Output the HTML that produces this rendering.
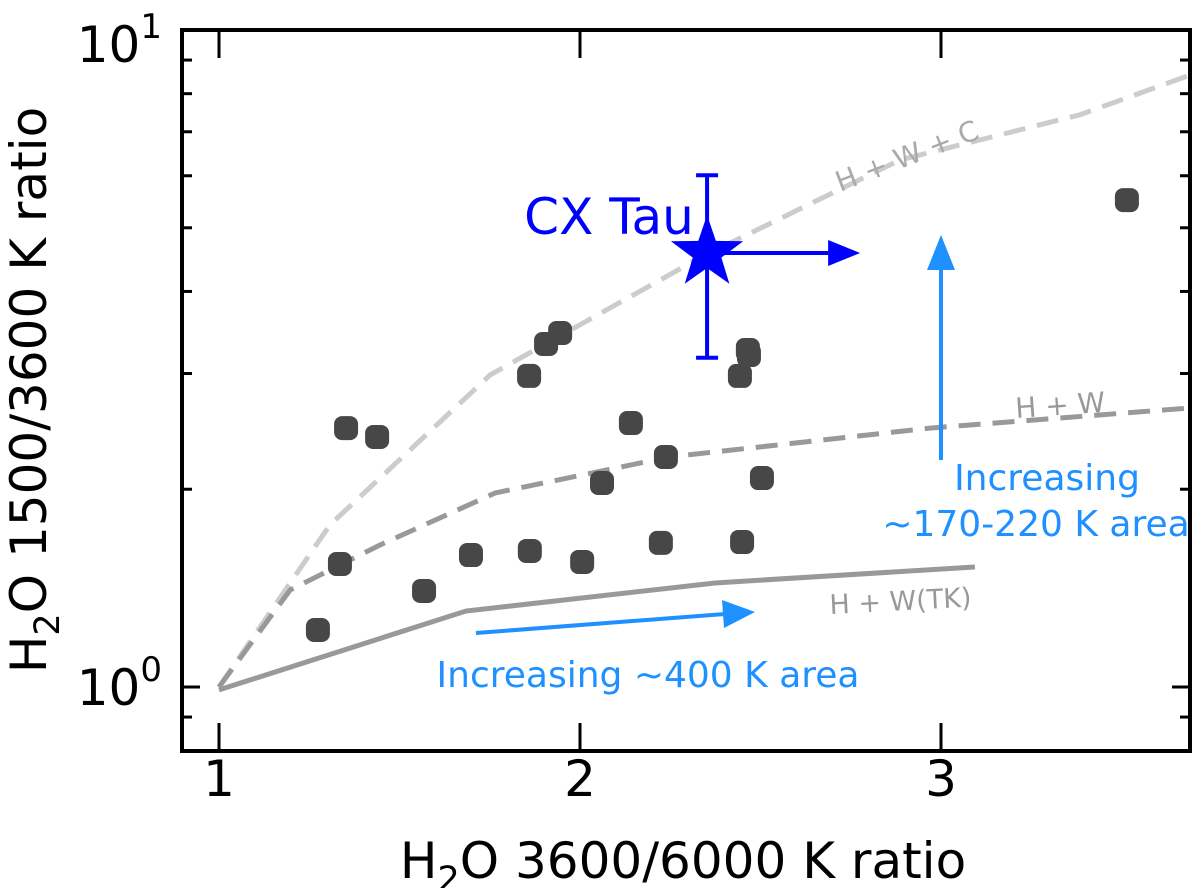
<!DOCTYPE html>
<html><head><meta charset="utf-8"><style>
html,body{margin:0;padding:0;background:#fff;}
svg text{font-family:"DejaVu Sans","Liberation Sans",sans-serif;}
</style></head><body>
<svg id="chart" width="1200" height="888" xmlns="http://www.w3.org/2000/svg">
<g id="plot"></g>
</svg>
<script>
const obsX=[1.274,1.335,1.352,1.438,1.568,1.698,1.861,1.859,1.906,1.945,2.006,2.061,2.141,2.224,2.238,2.443,2.449,2.465,2.468,2.504,3.515];
const obsY=[1.221,1.539,2.478,2.402,1.400,1.588,1.611,2.975,3.327,3.458,1.550,2.044,2.522,1.657,2.239,2.975,1.662,3.258,3.201,2.080,5.51];
const hwcX=[1.0,1.307,1.751,2.332,2.886,3.385,3.690];
const hwcY=[1.0,1.764,2.985,4.50,6.34,7.43,8.54];
const hwX=[1.0,1.197,1.446,1.765,2.249,2.970,3.690];
const hwY=[1.0,1.405,1.645,1.974,2.240,2.478,2.659];
const tkX=[1.0,1.684,2.374,3.094];
const tkY=[0.99,1.305,1.440,1.523];
const cxX=2.352, cxY=4.577, cxYlo=3.17, cxYhi=6.01, cxXlim=2.776;
const xTicks=[1,2,3];
const xTickLabels=["1","2","3"];

const NS="http://www.w3.org/2000/svg";
const L=182,R=1190,T=30,B=751;
const X=v=>219+(v-1)*361;
const Y=v=>687-657*Math.log10(v);
const g=document.getElementById('plot');
function mk(tag,a,parent){const e=document.createElementNS(NS,tag);for(const k in a)e.setAttribute(k,a[k]);(parent||g).appendChild(e);return e;}
function pts(xs,ys){return xs.map((x,i)=>X(x)+','+Y(ys[i])).join(' ');}

let l;
l=mk('polyline',{points:pts(hwcX,hwcY),fill:'none',stroke:'#cccccc','stroke-width':5,'stroke-dasharray':'22,12'});


l=mk('polyline',{points:pts(hwX,hwY),fill:'none',stroke:'#999999','stroke-width':5,'stroke-dasharray':'22,12'});


l=mk('polyline',{points:pts(tkX,tkY),fill:'none',stroke:'#999999','stroke-width':5});



obsX.forEach((x,i)=>{
  const r=mk('rect',{x:X(x)-12,y:Y(obsY[i])-12,width:24,height:24,rx:8,fill:'#474747'});
  
  
});

function txt(s,x,y,a){const t=mk('text',Object.assign({x:x,y:y},a));t.textContent=s;return t;}
let t;
t=txt('H + W + C',0,0,{'font-size':28,fill:'#aaaaaa',transform:'translate(840,192) rotate(-21)'});

t=txt('H + W',0,0,{'font-size':28,fill:'#999999',transform:'translate(1016,418) rotate(-4)'});

t=txt('H + W(TK)',0,0,{'font-size':27,fill:'#999999',transform:'translate(830,614) rotate(-3)'});


const blue='#1e90ff';
l=mk('line',{x1:476,y1:633,x2:725,y2:614,stroke:blue,'stroke-width':4});

l=mk('polygon',{points:'755,612 722,600 724,628',fill:blue});

l=mk('line',{x1:941,y1:460,x2:941,y2:265,stroke:blue,'stroke-width':4});

l=mk('polygon',{points:'941,235 927,270 955,270',fill:blue});

t=txt('Increasing ~400 K area',648,687,{'font-size':36,fill:blue,'text-anchor':'middle'});

t=txt('Increasing',1047,490,{'font-size':36,fill:blue,'text-anchor':'middle'});

t=txt('~170-220 K area',1036,536,{'font-size':36,fill:blue,'text-anchor':'middle'});


const cx=X(cxX),cy=Y(cxY);
l=mk('line',{x1:cx,y1:Y(cxYlo),x2:cx,y2:Y(cxYhi),stroke:'#0000ff','stroke-width':4});

l=mk('line',{x1:cx-11,y1:Y(cxYlo),x2:cx+11,y2:Y(cxYlo),stroke:'#0000ff','stroke-width':4});

l=mk('line',{x1:cx-11,y1:Y(cxYhi),x2:cx+11,y2:Y(cxYhi),stroke:'#0000ff','stroke-width':4});

l=mk('line',{x1:cx,y1:cy,x2:X(cxXlim)-30,y2:cy,stroke:'#0000ff','stroke-width':4});

l=mk('polygon',{points:`${X(cxXlim)},${cy} ${X(cxXlim)-32},${cy-13} ${X(cxXlim)-32},${cy+13}`,fill:'#0000ff'});

let sp=[];for(let i=0;i<10;i++){const r=i%2?15:38;const a=-Math.PI/2+i*Math.PI/5;sp.push((cx+r*Math.cos(a))+','+(cy+r*Math.sin(a)));}
l=mk('polygon',{points:sp.join(' '),fill:'#0000ff'});

t=txt('CX Tau',609,234,{'font-size':50,fill:'#0000ff','text-anchor':'middle'});


l=mk('rect',{x:L,y:T,width:R-L,height:B-T,fill:'none',stroke:'#000','stroke-width':4});

xTicks.forEach((v,i)=>{
  mk('line',{x1:X(v),y1:B,x2:X(v),y2:B-28,stroke:'#000','stroke-width':3});
  mk('line',{x1:X(v),y1:T,x2:X(v),y2:T+28,stroke:'#000','stroke-width':3});
  const tl=txt(xTickLabels[i],X(v),796,{'font-size':50,'text-anchor':'middle',fill:'#000'});
  
});
[1,10].forEach(v=>{
  mk('line',{x1:L,y1:Y(v),x2:L+18,y2:Y(v),stroke:'#000','stroke-width':3});
  mk('line',{x1:R,y1:Y(v),x2:R-18,y2:Y(v),stroke:'#000','stroke-width':3});
});
[0.9,2,3,4,5,6,7,8,9].forEach(v=>{
  mk('line',{x1:L,y1:Y(v),x2:L+10,y2:Y(v),stroke:'#000','stroke-width':3});
  mk('line',{x1:R,y1:Y(v),x2:R-10,y2:Y(v),stroke:'#000','stroke-width':3});
});
t=mk('text',{x:162,y:Y(1)+18,'font-size':50,'text-anchor':'end',fill:'#000'});
t.innerHTML='10<tspan dy="-24" font-size="34">0</tspan>';

t=mk('text',{x:162,y:62,'font-size':50,'text-anchor':'end',fill:'#000'});
t.innerHTML='10<tspan dy="-24" font-size="34">1</tspan>';


t=mk('text',{x:683,y:878,'font-size':50,'text-anchor':'middle',fill:'#000'});
t.innerHTML='H<tspan dy="13" font-size="35">2</tspan><tspan dy="-13">O 3600/6000 K ratio</tspan>';

t=mk('text',{x:0,y:0,'font-size':50,'text-anchor':'middle',fill:'#000',transform:'translate(46,390) rotate(-90)'});
t.innerHTML='H<tspan dy="13" font-size="35">2</tspan><tspan dy="-13">O 1500/3600 K ratio</tspan>';

</script>
</body></html>
